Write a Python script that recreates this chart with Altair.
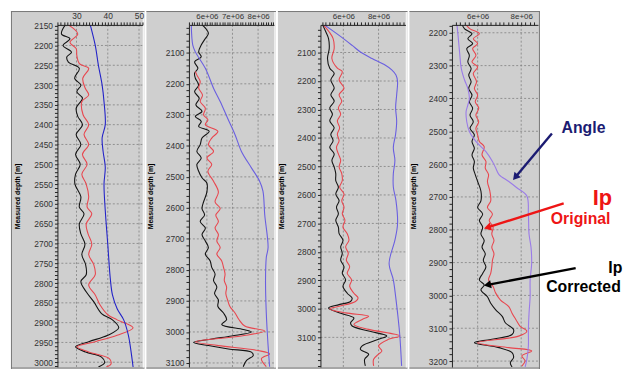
import altair as alt
import pandas as pd

# ---------------- Panel 1 (angle-like units) ----------------
P1_BLACK_D = [2148, 2171, 2183, 2200, 2217, 2229, 2242, 2258, 2283, 2300, 2317, 2333, 2358, 2379, 2400, 2425, 2450, 2475, 2500, 2525,
              2550, 2582, 2608, 2625, 2651, 2676, 2702, 2728, 2753, 2779, 2796, 2822, 2847, 2877, 2893, 2913, 2932, 2948, 2961, 2974,
              2987, 3001, 3012]
P1_BLACK_V = [26.4, 25.2, 27.9, 25.7, 28.4, 26.9, 27.4, 30.9, 29.4, 31.4, 30.1, 31.9, 29.9, 30.4, 31.9, 29.9, 31.4, 29.7, 31.2, 29.7,
              29.5, 31.4, 30.9, 32.4, 30.9, 31.4, 32.7, 31.7, 32.9, 33.1, 31.4, 33.1, 35.5, 38.0, 41.5, 43.5, 40.0, 33.9, 29.7, 32.9,
              38.0, 39.0, 37.0]
P1_RED_D = [2148, 2171, 2192, 2208, 2225, 2246, 2258, 2283, 2308, 2325, 2342, 2375, 2400, 2425, 2450, 2475, 2500, 2525, 2550, 2582,
            2608, 2625, 2651, 2676, 2702, 2728, 2753, 2779, 2805, 2830, 2855, 2880, 2893, 2913, 2932, 2948, 2961, 2974, 2991, 3005,
            3012]
P1_RED_V = [27.4, 30.4, 27.9, 29.9, 30.1, 30.9, 33.9, 32.0, 32.8, 33.9, 31.7, 32.1, 33.9, 32.4, 33.9, 31.9, 33.4, 31.7, 33.1, 33.9,
            33.4, 34.9, 33.1, 33.7, 34.9, 33.9, 35.5, 36.0, 33.9, 36.0, 37.5, 40.0, 43.0, 48.1, 43.0, 36.0, 30.1, 33.9, 40.5, 41.0,
            39.5]
P1_BLUE_D = [2148, 2200, 2250, 2300, 2342, 2400, 2433, 2467, 2508, 2550, 2617, 2702, 2788, 2830, 2865, 2893, 2932, 2965, 3012]
P1_BLUE_V = [34.4, 36.0, 37.0, 38.2, 38.8, 39.2, 38.2, 38.5, 39.2, 38.8, 39.2, 40.0, 40.8, 41.5, 43.0, 45.1, 46.6, 47.3, 48.1]

# ---------------- Panel 2 (values in units of 1e6) ----------------
P2_BLACK_D = [2010, 2022, 2038, 2054, 2075, 2097, 2113, 2129, 2150, 2166, 2182, 2204, 2225, 2247, 2268, 2289, 2305, 2321, 2337, 2353,
              2375, 2396, 2418, 2439, 2460, 2482, 2503, 2520, 2549, 2581, 2602, 2623, 2644, 2665, 2686, 2707, 2728, 2749, 2771, 2792,
              2813, 2834, 2855, 2876, 2897, 2918, 2939, 2960, 2976, 2992, 3000, 3013, 3023, 3034, 3044, 3055, 3065, 3076, 3092, 3112]
P2_BLACK_V = [5.81, 5.96, 6.06, 5.94, 5.78, 5.68, 5.78, 5.52, 5.65, 5.52, 5.55, 5.68, 5.52, 5.70, 5.57, 5.81, 5.55, 5.78, 5.68, 6.09,
              5.81, 5.74, 5.61, 5.78, 5.61, 5.68, 5.81, 6.00, 6.00, 5.87, 5.81, 5.91, 5.74, 5.94, 5.81, 5.94, 6.06, 5.94, 6.13, 6.19,
              6.32, 6.26, 6.39, 6.30, 6.45, 6.43, 6.65, 6.77, 6.58, 7.42, 7.74, 6.97, 6.19, 5.48, 6.06, 6.84, 7.74, 7.81, 7.55, 7.42]
P2_RED_D = [2160, 2172, 2193, 2214, 2236, 2257, 2279, 2300, 2316, 2332, 2353, 2375, 2396, 2418, 2439, 2460, 2482, 2514, 2549, 2581,
            2602, 2623, 2644, 2665, 2686, 2707, 2728, 2749, 2771, 2792, 2813, 2834, 2855, 2876, 2897, 2918, 2939, 2960, 2981, 2997,
            3013, 3032, 3044, 3060, 3071, 3086, 3112]
P2_RED_V = [5.55, 5.61, 5.74, 5.68, 5.83, 5.74, 5.94, 5.87, 6.04, 5.94, 6.43, 6.19, 6.06, 6.26, 6.00, 6.19, 6.04, 6.26, 6.45, 6.32,
            6.52, 6.35, 6.45, 6.32, 6.45, 6.39, 6.52, 6.39, 6.58, 6.65, 6.71, 6.68, 6.77, 6.74, 6.81, 6.90, 7.10, 7.25, 7.48, 8.26,
            7.35, 5.55, 6.45, 8.00, 8.45, 8.13, 8.32]
P2_BLUE_D = [2010, 2075, 2097, 2150, 2214, 2257, 2311, 2364, 2418, 2471, 2514, 2546, 2623, 2728, 2760, 2834, 2939, 3044, 3112]
P2_BLUE_V = [5.39, 5.45, 5.55, 5.94, 6.26, 6.52, 6.81, 7.10, 7.35, 7.74, 8.06, 8.19, 8.26, 8.39, 8.32, 8.29, 8.32, 8.39, 8.45]

# ---------------- Panel 3 (values in units of 1e6) ----------------
P3_BLACK_D = [2003, 2028, 2051, 2086, 2121, 2155, 2173, 2196, 2225, 2248, 2271, 2294, 2317, 2340, 2364, 2387, 2410, 2433, 2456, 2479,
              2502, 2525, 2550, 2573, 2597, 2620, 2643, 2666, 2689, 2713, 2736, 2759, 2782, 2805, 2829, 2852, 2875, 2898, 2921, 2945,
              2962, 2974, 2985, 2997, 3014, 3032, 3049, 3060, 3078, 3095, 3107, 3130, 3142, 3159, 3177, 3200]
P3_BLACK_V = [4.82, 5.01, 5.16, 5.20, 5.10, 5.23, 5.48, 5.29, 5.48, 5.29, 5.48, 5.23, 5.38, 5.23, 5.48, 5.29, 5.42, 5.23, 5.48, 5.35,
              5.48, 5.57, 5.57, 5.72, 5.57, 5.76, 5.61, 5.72, 5.57, 5.72, 5.76, 5.98, 5.85, 5.94, 5.85, 6.04, 5.94, 6.13, 5.98, 6.22,
              6.50, 6.41, 5.76, 5.16, 5.76, 6.60, 6.41, 6.50, 7.44, 8.47, 8.00, 7.07, 6.97, 7.44, 7.21, 7.25]
P3_RED_D = [2003, 2028, 2051, 2086, 2121, 2155, 2167, 2196, 2225, 2248, 2271, 2294, 2317, 2340, 2364, 2387, 2410, 2433, 2456, 2479,
            2502, 2525, 2550, 2573, 2597, 2620, 2643, 2666, 2689, 2713, 2736, 2759, 2782, 2805, 2829, 2852, 2875, 2898, 2921, 2945,
            2962, 2974, 2991, 3000, 3014, 3026, 3037, 3055, 3072, 3095, 3107, 3130, 3148, 3159, 3177, 3200]
P3_RED_V = [4.86, 5.20, 5.42, 5.48, 5.35, 5.66, 5.94, 5.76, 6.04, 5.76, 5.91, 5.72, 5.85, 5.66, 5.79, 5.66, 5.76, 5.61, 5.72, 5.85,
            5.76, 5.91, 5.94, 5.79, 6.04, 5.91, 6.04, 5.94, 6.09, 5.98, 6.22, 6.32, 6.13, 6.28, 6.17, 6.36, 6.22, 6.47, 6.36, 6.60,
            6.84, 6.69, 5.76, 5.23, 6.13, 7.44, 7.07, 6.60, 7.44, 9.21, 8.56, 8.00, 8.19, 8.00, 7.72, 7.72]
P3_BLUE_D = [2003, 2040, 2075, 2098, 2121, 2144, 2161, 2179, 2202, 2248, 2294, 2340, 2387, 2433, 2479, 2525, 2572, 2620, 2701, 2759,
             2840, 2898, 2956, 3014, 3095, 3200]
P3_BLUE_V = [4.92, 5.76, 6.50, 6.97, 7.63, 8.37, 8.75, 8.99, 9.08, 9.03, 8.97, 9.03, 8.97, 8.84, 8.93, 8.84, 8.84, 8.99, 9.08, 8.93,
             8.60, 8.84, 8.97, 9.08, 9.21, 9.31]

# ---------------- Panel 4 (values in units of 1e6) ----------------
P4_BLACK_D = [2176, 2188, 2203, 2218, 2233, 2248, 2269, 2289, 2309, 2329, 2349, 2370, 2390, 2410, 2430, 2451, 2471, 2491, 2511, 2531,
              2552, 2572, 2592, 2612, 2632, 2653, 2682, 2712, 2732, 2752, 2772, 2792, 2813, 2833, 2853, 2873, 2893, 2913, 2933, 2953,
              2968, 2983, 3004, 3024, 3044, 3064, 3084, 3104, 3119, 3134, 3144, 3159, 3174, 3189, 3205, 3218]
P4_BLACK_V = [5.29, 5.40, 5.74, 5.55, 5.77, 5.50, 5.62, 5.55, 5.70, 5.59, 5.70, 5.59, 5.74, 5.62, 5.77, 5.65, 5.80, 5.65, 5.85, 5.74,
              5.85, 5.74, 5.85, 5.80, 5.89, 6.00, 6.15, 6.15, 6.00, 6.23, 6.08, 6.23, 6.15, 6.30, 6.20, 6.35, 6.26, 6.38, 6.23, 6.08,
              6.30, 6.15, 6.45, 6.60, 6.83, 7.13, 7.28, 7.65, 7.58, 6.60, 5.85, 6.98, 7.58, 7.65, 7.50, 7.58]
P4_RED_D = [2176, 2188, 2203, 2218, 2233, 2248, 2269, 2289, 2304, 2324, 2349, 2370, 2390, 2410, 2430, 2451, 2471, 2491, 2511, 2531,
            2547, 2572, 2592, 2612, 2632, 2653, 2682, 2712, 2732, 2752, 2772, 2792, 2813, 2833, 2853, 2873, 2893, 2913, 2933, 2953,
            2973, 2993, 3014, 3034, 3054, 3074, 3094, 3109, 3124, 3144, 3159, 3169, 3184, 3199, 3215]
P4_RED_V = [5.47, 5.65, 6.08, 5.80, 6.00, 5.77, 5.92, 5.74, 6.00, 5.80, 5.95, 5.85, 6.00, 5.89, 6.05, 5.92, 6.05, 5.92, 6.00, 6.08,
            6.30, 6.20, 6.38, 6.35, 6.50, 6.45, 6.56, 6.60, 6.45, 6.68, 6.53, 6.71, 6.65, 6.75, 6.65, 6.75, 6.68, 6.65, 6.60, 6.50,
            6.71, 6.83, 7.05, 7.43, 7.58, 7.76, 7.95, 8.26, 7.88, 6.00, 7.43, 8.48, 8.03, 8.18, 8.03]
P4_BLUE_D = [2176, 2208, 2259, 2309, 2344, 2370, 2400, 2420, 2440, 2471, 2501, 2531, 2562, 2592, 2612, 2632, 2653, 2672, 2697, 2752,
             2813, 2853, 2903, 2953, 3004, 3054, 3104, 3154, 3195, 3218]
P4_BLUE_V = [5.05, 5.10, 5.17, 5.25, 5.40, 5.55, 5.62, 5.55, 5.47, 5.50, 5.62, 5.92, 6.38, 6.68, 6.83, 6.98, 7.43, 7.80, 8.26, 8.33,
             8.36, 8.45, 8.48, 8.41, 8.41, 8.36, 8.33, 8.33, 8.26, 8.18]

# ---------------- Tick labels ----------------
P1_X_MAJOR = [30, 40, 50]
P2_X_MAJOR = [6000000, 7000000, 8000000]
P3_X_MAJOR = [6000000, 8000000]
P4_X_MAJOR = [6000000, 8000000]
P1_Y_MAJOR = list(range(2150, 3001, 50))
P2_Y_MAJOR = list(range(2100, 3101, 100))
P3_Y_MAJOR = list(range(2100, 3101, 100))
P4_Y_MAJOR = list(range(2200, 3201, 100))

# ---------------- Annotations (panel-4 coordinates) ----------------
ANN_TEXT = ["Angle", "Ip", "Original", "Ip", "Corrected"]
ANN_V = [10.86, 11.73, 10.73, 12.32, 10.86]
ANN_D = [2489, 2703, 2766, 2917, 2974]
ARROW_V0 = [9.41, 9.95, 10.5]
ARROW_D0 = [2507, 2720, 2917]
ARROW_V1 = [7.73, 6.45, 6.45]
ARROW_D1 = [2640, 2793, 2968]

# styles
ANN_COLOR = ["#1b1b72", "#ee1515", "#ee1515", "#000000", "#000000"]
ANN_SIZE = [16, 22, 16, 16, 16]
ARROW_COLOR = ["#1b1b72", "#ee1515", "#000000"]
ARROW_ANGLE = [220, 254, 259]

H = 346
FONT = "Liberation Sans"
FRAME = "#cfcfcf"
GRID = "#808080"
BLACK = "#141414"
RED = "#e8474f"
BLUE1 = "#2323c8"
BLUE2 = "#6a5fe0"
BLUE4 = "#9a7ae8"
E6 = 1000000


def df(d, v, scale=1):
    return pd.DataFrame({"d": d, "v": [x * scale for x in v]})


def panel(width, xdom, ydom, xminor, xmajor, yminor, ymajor, curves, frame_left, title_x,
          e6, left_border=False, right_border=False, extra=None):
    xm = ",".join(str(int(m)) for m in xmajor)
    ym = ",".join(str(int(m)) for m in ymajor)
    if e6:
        xexpr = f"indexof([{xm}], datum.value) >= 0 ? format(datum.value / 1000000, 'd') + 'e+06' : ''"
    else:
        xexpr = f"indexof([{xm}], datum.value) >= 0 ? format(datum.value, 'd') : ''"
    yexpr = f"indexof([{ym}], datum.value) >= 0 ? format(datum.value, 'd') : ''"
    x_axis = alt.Axis(orient="top", values=xminor, labelExpr=xexpr, labelOverlap=False, grid=False,
                      tickSize=3, tickColor="#222", domainColor="#222", labelFont=FONT,
                      labelFontSize=8 if e6 else 8.5, labelColor="#333", labelPadding=1, title="", zindex=1)
    y_axis = alt.Axis(orient="left", values=yminor, labelExpr=yexpr, labelOverlap=False, grid=False,
                      tickSize=3, tickColor="#222", domainColor="#222", labelFont=FONT, labelFontSize=8.5,
                      labelColor="#333", labelPadding=2, title="Measured depth [m]", titleFont=FONT,
                      titleFontSize=7, titleFontWeight="bold", titleColor="#000", titleX=title_x,
                      titleY=H / 2, titleBaseline="middle", titleAngle=270, zindex=1)
    X = alt.X("v:Q", scale=alt.Scale(domain=xdom, nice=False, zero=False), axis=x_axis)
    Y = alt.Y("d:Q", scale=alt.Scale(domain=ydom, reverse=True, nice=False, zero=False), axis=y_axis)

    one = pd.DataFrame({"k": [0]})
    layers = [
        alt.Chart(one).mark_rect(color=FRAME).encode(
            x=alt.value(frame_left), x2=alt.value(width + 2), y=alt.value(-14), y2=alt.value(H + 2)),
        alt.Chart(pd.DataFrame({"v": xmajor})).mark_rule(color=GRID, strokeDash=[2, 2], strokeWidth=0.8).encode(x=X),
        alt.Chart(pd.DataFrame({"d": ymajor})).mark_rule(color=GRID, strokeDash=[2, 2], strokeWidth=0.8).encode(y=Y),
    ]
    for data, color in curves:
        layers.append(alt.Chart(data).mark_line(color=color, strokeWidth=1.1, clip=True,
                                                interpolate="catmull-rom").encode(x=X, y=Y, order="d:Q"))
    # frame borders
    layers.append(alt.Chart(one).mark_rule(color="#777", strokeWidth=1).encode(
        x=alt.value(frame_left), x2=alt.value(width + 2), y=alt.value(-13.5)))
    layers.append(alt.Chart(one).mark_rule(color="#999", strokeWidth=1.5).encode(
        x=alt.value(frame_left), x2=alt.value(width + 2), y=alt.value(H + 1)))
    if left_border:
        layers.append(alt.Chart(one).mark_rule(color="#777", strokeWidth=1).encode(
            x=alt.value(frame_left + 0.5), y=alt.value(-14), y2=alt.value(H + 2)))
    if right_border:
        layers.append(alt.Chart(one).mark_rule(color="#777", strokeWidth=1).encode(
            x=alt.value(width + 1.5), y=alt.value(-14), y2=alt.value(H + 2)))
    else:
        layers.append(alt.Chart(one).mark_rule(color="#f4f4f4", strokeWidth=1.5).encode(
            x=alt.value(width + 1), y=alt.value(-13), y2=alt.value(H + 0.5)))
    if extra is not None:
        layers.extend(extra(X, Y))
    return alt.layer(*layers).properties(width=width, height=H)


def annotations(X, Y):
    ann = pd.DataFrame({"v": [x * E6 for x in ANN_V], "d": ANN_D, "t": ANN_TEXT,
                        "c": ANN_COLOR, "s": ANN_SIZE})
    arr = pd.DataFrame({"v": [x * E6 for x in ARROW_V0], "d": ARROW_D0,
                        "v2": [x * E6 for x in ARROW_V1], "d2": ARROW_D1, "c": ARROW_COLOR})
    heads = pd.DataFrame({"v": [x * E6 for x in ARROW_V1], "d": ARROW_D1, "c": ARROW_COLOR, "a": ARROW_ANGLE})
    return [
        alt.Chart(arr).mark_rule(strokeWidth=2.4).encode(
            x=X, y=Y, x2="v2:Q", y2="d2:Q", color=alt.Color("c:N", scale=None)),
        alt.Chart(heads).mark_point(shape="triangle-up", filled=True, size=70, opacity=1).encode(
            x=X, y=Y, angle=alt.Angle("a:Q", scale=None), color=alt.Color("c:N", scale=None)),
        alt.Chart(ann).mark_text(font=FONT, fontWeight="bold", align="center", baseline="middle").encode(
            x=X, y=Y, text="t:N", color=alt.Color("c:N", scale=None), size=alt.Size("s:Q", scale=None)),
    ]


p1 = panel(86, [23.9, 51.1], [2148, 3012], list(range(24, 52)), P1_X_MAJOR,
           list(range(2150, 3011, 10)), P1_Y_MAJOR,
           [(df(P1_BLACK_D, P1_BLACK_V), BLACK), (df(P1_RED_D, P1_RED_V), RED), (df(P1_BLUE_D, P1_BLUE_V), BLUE1)],
           -47, -40, False, left_border=True)
p2 = panel(86, [5300000, 8620000], [2010, 3113], list(range(5300000, 8600001, 100000)), P2_X_MAJOR,
           list(range(2020, 3111, 20)), P2_Y_MAJOR,
           [(df(P2_BLACK_D, P2_BLACK_V, E6), BLACK), (df(P2_RED_D, P2_RED_V, E6), RED),
            (df(P2_BLUE_D, P2_BLUE_V, E6), BLUE2)],
           -43, -39, True)
p3 = panel(86, [4700000, 9530000], [2003, 3204], list(range(4800000, 9400001, 200000)), P3_X_MAJOR,
           list(range(2020, 3201, 20)), P3_Y_MAJOR,
           [(df(P3_BLACK_D, P3_BLACK_V, E6), BLACK), (df(P3_RED_D, P3_RED_V, E6), RED),
            (df(P3_BLUE_D, P3_BLUE_V, E6), BLUE2)],
           -43, -39, True)
p4 = panel(87, [4820000, 8770000], [2176, 3218], list(range(5000000, 8600001, 200000)), P4_X_MAJOR,
           list(range(2180, 3211, 20)), P4_Y_MAJOR,
           [(df(P4_BLACK_D, P4_BLACK_V, E6), BLACK), (df(P4_RED_D, P4_RED_V, E6), RED),
            (df(P4_BLUE_D, P4_BLUE_V, E6), BLUE4)],
           -43, -39, True, right_border=True, extra=annotations)

chart = alt.hconcat(p1, p2, p3, p4, spacing=0).resolve_scale(
    x="independent", y="independent"
).properties(
    padding={"left": 2, "top": 0, "right": 0, "bottom": 0}
).configure(background="white").configure_view(strokeWidth=0)

chart.save("out.html", embed_options={"renderer": "svg", "actions": False})
